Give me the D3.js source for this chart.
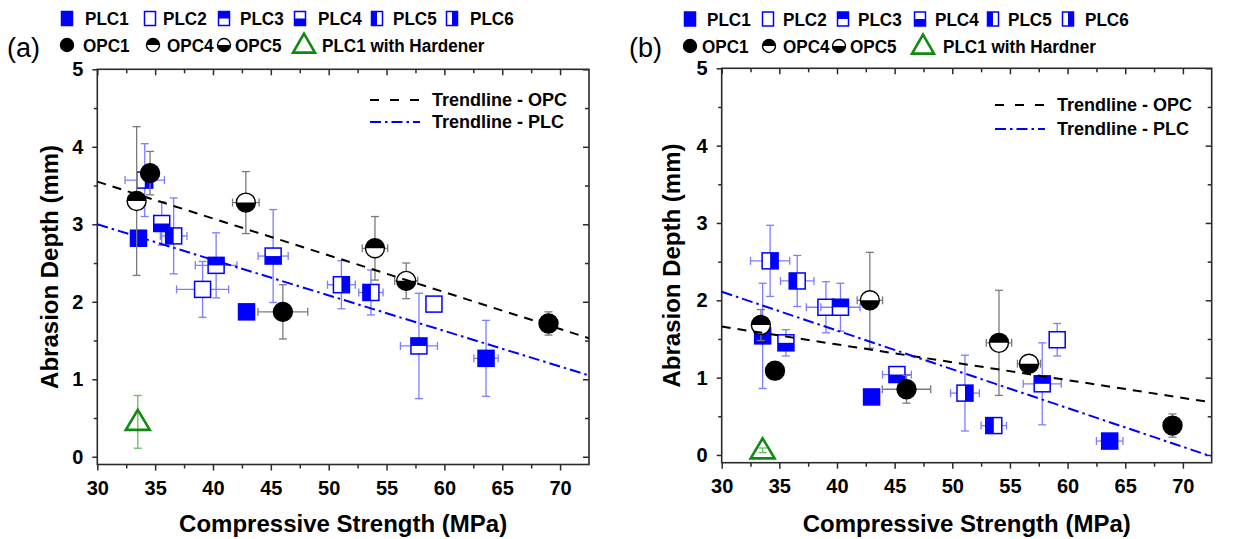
<!DOCTYPE html>
<html><head><meta charset="utf-8">
<script src="https://cdn.jsdelivr.net/npm/d3@7"></script>
<style>
body{margin:0;background:#fff}
svg{display:block}
text{font-family:"Liberation Sans",Arial,Helvetica,sans-serif}
</style>
</head><body>
<svg id="chart" width="1243" height="539"></svg>
<script>
// ---------------- DATA ----------------
const xTickValues = [30, 35, 40, 45, 50, 55, 60, 65, 70];
const yTickValues = [0, 1, 2, 3, 4, 5];
const legendRow1 = ["PLC1", "PLC2", "PLC3", "PLC4", "PLC5", "PLC6"];
const legendRow2a = ["OPC1", "OPC4", "OPC5", "PLC1 with Hardener"];
const legendRow2b = ["OPC1", "OPC4", "OPC5", "PLC1 with Hardner"];
const trendLabels = ["Trendline - OPC", "Trendline - PLC"];

// Panel (a)
const aSeries   = ["PLC1","PLC1","PLC1","PLC2","PLC2","PLC3","PLC3","PLC4","PLC4","PLC5","PLC5","PLC6","PLC6","OPC1","OPC1","OPC1","OPC4","OPC4","OPC5","OPC5","HARD"];
const aStrength = [33.56, 42.9, 63.6, 39.1, 59.1, 40.27, 57.8, 35.57, 45.2, 36.6, 53.65, 34.1, 51.1, 34.56, 46.04, 69.0, 33.4, 54.0, 42.84, 56.7, 33.5];
const aDepth    = [2.82, 1.87, 1.27, 2.16, 1.97, 2.47, 1.43, 3.01, 2.59, 2.85, 2.12, 3.57, 2.22, 3.66, 1.87, 1.72, 3.30, 2.69, 3.28, 2.27, 0.45];
const aStrErr   = [0.4, 0.4, 1.05, 2.25, 0.3, 1.8, 1.6, 0.5, 1.3, 1.15, 1.05, 1.7, 1.2, 0.4, 2.15, 0.3, 0.6, 1.1, 1.15, 1.0, 0];
const aDepthErr = [0.10, 0.08, 0.49, 0.36, 0.03, 0.42, 0.68, 0.28, 0.60, 0.49, 0.29, 0.47, 0.31, 0.28, 0.35, 0.15, 0.96, 0.41, 0.40, 0.23, 0.34];
const aTrendX   = [30, 72.5];
const aTrendOPC = [3.55, 1.53];
const aTrendPLC = [3.00, 1.05];

// Panel (b)
const bSeries   = ["PLC1","PLC1","PLC1","PLC2","PLC2","PLC3","PLC3","PLC4","PLC4","PLC5","PLC5","PLC6","PLC6","OPC1","OPC1","OPC1","OPC4","OPC4","OPC5","OPC5","HARD"];
const bStrength = [33.55, 43.0, 63.65, 39.04, 59.1, 40.3, 57.8, 35.57, 45.2, 36.55, 53.6, 34.2, 51.1, 34.62, 46.03, 69.1, 33.4, 54.05, 42.85, 56.65, 33.55];
const bDepth    = [1.54, 0.75, 0.18, 1.91, 1.49, 1.91, 0.92, 1.45, 1.04, 2.25, 0.38, 2.51, 0.80, 1.09, 0.85, 0.38, 1.68, 1.45, 2.00, 1.18, 0.06];
const bStrErr   = [0.3, 0.4, 1.15, 1.7, 0.2, 1.7, 1.65, 0.3, 1.25, 1.45, 1.1, 1.7, 1.25, 0.3, 2.1, 0.2, 0.6, 1.1, 1.1, 1.0, 0];
const bDepthErr = [0.68, 0.05, 0.03, 0.33, 0.21, 0.31, 0.53, 0.17, 0.10, 0.33, 0.05, 0.46, 0.49, 0.05, 0.18, 0.15, 0.20, 0.68, 0.62, 0.05, 0.03];
const bTrendX   = [30, 72.5];
const bTrendOPC = [1.66, 0.68];
const bTrendPLC = [2.11, -0.02];

// ---------------- STYLE ----------------
const BLUE = "#0000ff";
const AXIS = "#2b2b2b";
const ERR = {PLC: "#7d7dff", OPC: "#7a7a7a", HARD: "#66bb66"};
const GREEN = "#108a10";
const svg = d3.select("#chart");

function drawSquare(g, type, cx, cy, w, h) {
  const x0 = cx - w / 2, y0 = cy - h / 2;
  g.append("rect").attr("x", x0).attr("y", y0).attr("width", w).attr("height", h)
    .attr("fill", type === "PLC1" ? BLUE : "#fff");
  let r = null;
  if (type === "PLC3") r = [x0, y0, w, h / 2];
  if (type === "PLC4") r = [x0, cy, w, h / 2];
  if (type === "PLC5") r = [x0, y0, w / 2, h];
  if (type === "PLC6") r = [cx, y0, w / 2, h];
  if (r) g.append("rect").attr("x", r[0]).attr("y", r[1]).attr("width", r[2]).attr("height", r[3]).attr("fill", BLUE);
  g.append("rect").attr("x", x0).attr("y", y0).attr("width", w).attr("height", h)
    .attr("fill", "none").attr("stroke", BLUE).attr("stroke-width", 1.5);
}
function drawCircle(g, type, cx, cy, r) {
  g.append("circle").attr("cx", cx).attr("cy", cy).attr("r", r)
    .attr("fill", type === "OPC1" ? "#000" : "#fff");
  if (type === "OPC4")
    g.append("path").attr("d", `M${cx - r},${cy} A${r},${r} 0 0 1 ${cx + r},${cy} Z`).attr("fill", "#000");
  if (type === "OPC5")
    g.append("path").attr("d", `M${cx - r},${cy} A${r},${r} 0 0 0 ${cx + r},${cy} Z`).attr("fill", "#000");
  g.append("circle").attr("cx", cx).attr("cy", cy).attr("r", r)
    .attr("fill", "none").attr("stroke", "#000").attr("stroke-width", 1.4);
}
function drawTriangle(g, cx, cy, w, h) {
  g.append("path")
    .attr("d", `M${cx},${cy - h * 0.6} L${cx + w / 2},${cy + h * 0.4} L${cx - w / 2},${cy + h * 0.4} Z`)
    .attr("fill", "none").attr("stroke", GREEN).attr("stroke-width", 2.6).attr("stroke-linejoin", "miter");
}
function drawMarker(g, type, cx, cy, legend) {
  if (type.startsWith("PLC")) drawSquare(g, type, cx, cy, legend ? 11 : 16, legend ? 14 : 16);
  else if (type.startsWith("OPC")) drawCircle(g, type, cx, cy, legend ? 6.5 : 9.5);
  else drawTriangle(g, cx, cy, legend ? 22 : 24, legend ? 19 : 20);
}
function legendText(g, x, y, t) {
  g.append("g").attr("transform", `translate(${x},${y}) scale(0.9,1)`)
    .append("text").attr("x", 0).attr("y", 0).attr("dy", "0.36em")
    .style("font-size", "19px").style("font-weight", "bold").text(t);
}

function panel(p) {
  const x = d3.scaleLinear().domain([30, 72.5]).range([p.left, p.right]);
  const y = d3.scaleLinear().domain([-0.1, 5]).range([p.bottom, p.top]);
  const g = svg.append("g");

  const clipId = "clip" + p.name;
  svg.append("clipPath").attr("id", clipId).append("rect")
    .attr("x", p.left).attr("y", p.top).attr("width", p.right - p.left).attr("height", p.bottom - p.top);

  // Axes
  const minorX = d3.range(32.5, 72.5, 5);
  const minorY = d3.range(0.5, 5, 1);
  const styleAxis = sel => {
    sel.select(".domain").remove();
    sel.selectAll("line").attr("stroke", AXIS).attr("stroke-width", 1.5);
    sel.selectAll("text").attr("fill", "#000").style("font-size", "20px").style("font-weight", "bold");
  };
  g.append("g").attr("transform", `translate(0,${p.bottom})`)
    .call(d3.axisBottom(x).tickValues(xTickValues).tickSize(6).tickPadding(10).tickFormat(d3.format("d"))).call(styleAxis);
  g.append("g").attr("transform", `translate(0,${p.bottom})`)
    .call(d3.axisBottom(x).tickValues(minorX).tickSize(4).tickFormat("")).call(styleAxis);
  g.append("g").attr("transform", `translate(${p.left},0)`)
    .call(d3.axisLeft(y).tickValues(yTickValues).tickSize(5).tickPadding(9).tickFormat(d3.format("d"))).call(styleAxis);
  g.append("g").attr("transform", `translate(${p.left},0)`)
    .call(d3.axisLeft(y).tickValues(minorY).tickSize(3.5).tickFormat("")).call(styleAxis);
  g.append("g").attr("transform", `translate(0,${p.top})`)
    .call(d3.axisTop(x).tickValues(xTickValues).tickSize(-6).tickFormat("")).call(styleAxis);
  g.append("g").attr("transform", `translate(0,${p.top})`)
    .call(d3.axisTop(x).tickValues(minorX).tickSize(-4).tickFormat("")).call(styleAxis);
  g.append("g").attr("transform", `translate(${p.right},0)`)
    .call(d3.axisRight(y).tickValues(yTickValues).tickSize(-6).tickFormat("")).call(styleAxis);
  g.append("g").attr("transform", `translate(${p.right},0)`)
    .call(d3.axisRight(y).tickValues(minorY).tickSize(-4).tickFormat("")).call(styleAxis);
  g.append("rect").attr("x", p.left).attr("y", p.top)
    .attr("width", p.right - p.left).attr("height", p.bottom - p.top)
    .attr("fill", "none").attr("stroke", AXIS).attr("stroke-width", 1.6);

  // Axis titles
  g.append("text").attr("x", (p.left + p.right) / 2).attr("y", 532)
    .attr("text-anchor", "middle").style("font-size", "24px").style("font-weight", "bold")
    .text("Compressive Strength (MPa)");
  g.append("text").attr("transform", `translate(${p.ytitleX},${(p.top + p.bottom) / 2}) rotate(-90)`)
    .attr("text-anchor", "middle").style("font-size", "24px").style("font-weight", "bold")
    .text("Abrasion Depth (mm)");

  // Panel label
  g.append("text").attr("x", p.labelX).attr("y", 57).style("font-size", "27px").text(p.label);

  // Data
  const data = p.series.map((s, i) => ({s, x: p.xs[i], y: p.ys[i], xe: p.xe[i], ye: p.ye[i]}));
  const order = ["PLC1","PLC2","PLC3","PLC4","PLC5","PLC6","OPC1","OPC4","OPC5","HARD"];
  const plot = g.append("g");
  order.forEach(name => {
    data.filter(d => d.s === name).forEach(d => {
      const col = name.startsWith("PLC") ? ERR.PLC : name.startsWith("OPC") ? ERR.OPC : ERR.HARD;
      const eg = plot.append("g").attr("stroke", col).attr("stroke-width", 1.3);
      const cx = x(d.x), cy = y(d.y), cap = 4;
      if (d.ye > 0) {
        eg.append("line").attr("x1", cx).attr("x2", cx).attr("y1", y(d.y + d.ye)).attr("y2", y(d.y - d.ye));
        eg.append("line").attr("x1", cx - cap).attr("x2", cx + cap).attr("y1", y(d.y + d.ye)).attr("y2", y(d.y + d.ye));
        eg.append("line").attr("x1", cx - cap).attr("x2", cx + cap).attr("y1", y(d.y - d.ye)).attr("y2", y(d.y - d.ye));
      }
      if (d.xe > 0) {
        eg.append("line").attr("y1", cy).attr("y2", cy).attr("x1", x(d.x - d.xe)).attr("x2", x(d.x + d.xe));
        eg.append("line").attr("y1", cy - cap).attr("y2", cy + cap).attr("x1", x(d.x - d.xe)).attr("x2", x(d.x - d.xe));
        eg.append("line").attr("y1", cy - cap).attr("y2", cy + cap).attr("x1", x(d.x + d.xe)).attr("x2", x(d.x + d.xe));
      }
      drawMarker(plot.append("g"), name, cx, cy, false);
    });
  });

  // Trendlines
  const line = d3.line().x(d => x(d[0])).y(d => y(d[1]));
  g.append("path").datum(p.tx.map((v, i) => [v, p.tOPC[i]])).attr("d", line)
    .attr("clip-path", `url(#${clipId})`)
    .attr("fill", "none").attr("stroke", "#000").attr("stroke-width", 2).attr("stroke-dasharray", "9,7");
  g.append("path").datum(p.tx.map((v, i) => [v, p.tPLC[i]])).attr("d", line)
    .attr("clip-path", `url(#${clipId})`)
    .attr("fill", "none").attr("stroke", BLUE).attr("stroke-width", 2).attr("stroke-dasharray", "11,4,2.5,4");

  // Trendline legend
  const tl = g.append("g");
  tl.append("line").attr("x1", p.tlX).attr("x2", p.tlX + 50).attr("y1", p.tlY[0]).attr("y2", p.tlY[0])
    .attr("stroke", "#000").attr("stroke-width", 2).attr("stroke-dasharray", "9,11");
  tl.append("line").attr("x1", p.tlX).attr("x2", p.tlX + 50).attr("y1", p.tlY[1]).attr("y2", p.tlY[1])
    .attr("stroke", BLUE).attr("stroke-width", 2).attr("stroke-dasharray", "11,4,2.5,4");
  trendLabels.forEach((t, i) => {
    tl.append("text").attr("x", p.tlX + 62).attr("y", p.tlY[i]).attr("dy", "0.36em")
      .style("font-size", "18px").style("font-weight", "bold").text(t);
  });

  // Marker legend
  const lg = g.append("g");
  legendRow1.forEach((t, i) => {
    drawMarker(lg.append("g"), t, p.leg1Icon[i], p.leg1Y, true);
    legendText(lg, p.leg1Text[i], p.leg1Y, t);
  });
  p.row2.forEach((t, i) => {
    const type = i < 3 ? t : "HARD";
    drawMarker(lg.append("g"), type, p.leg2Icon[i], p.leg2Y, true);
    legendText(lg, p.leg2Text[i], p.leg2Y, t);
  });
}

panel({
  name: "a", label: "(a)", labelX: 7,
  left: 97.3, right: 589, top: 69.3, bottom: 464.5, ytitleX: 58,
  series: aSeries, xs: aStrength, ys: aDepth, xe: aStrErr, ye: aDepthErr,
  tx: aTrendX, tOPC: aTrendOPC, tPLC: aTrendPLC,
  tlX: 370, tlY: [100, 122],
  leg1Y: 18.5, leg1Icon: [67, 150, 224, 300, 377, 452], leg1Text: [85, 163, 240, 318, 393, 470],
  row2: legendRow2a, leg2Y: 45, leg2Icon: [67, 153, 224, 304], leg2Text: [83, 167, 235, 322]
});
panel({
  name: "b", label: "(b)", labelX: 629,
  left: 721.7, right: 1211.7, top: 68.3, bottom: 462.7, ytitleX: 680,
  series: bSeries, xs: bStrength, ys: bDepth, xe: bStrErr, ye: bDepthErr,
  tx: bTrendX, tOPC: bTrendOPC, tPLC: bTrendPLC,
  tlX: 995, tlY: [105, 129],
  leg1Y: 19, leg1Icon: [690, 768, 843, 920, 993, 1068], leg1Text: [707, 783, 858, 935, 1008, 1085],
  row2: legendRow2b, leg2Y: 46, leg2Icon: [690, 769, 839, 923], leg2Text: [702, 783, 850, 943]
});
</script>
</body></html>
